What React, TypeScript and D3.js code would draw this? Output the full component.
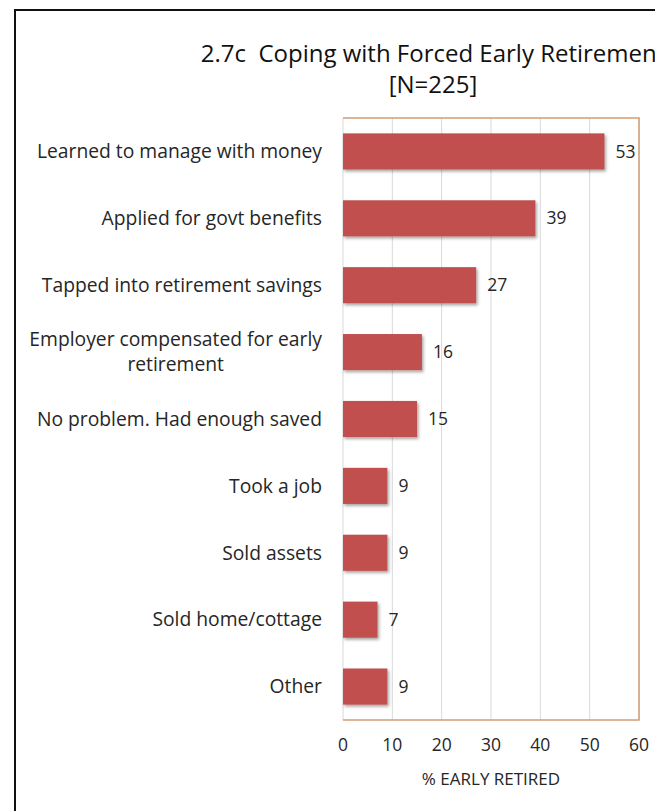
import React, { useEffect, useRef } from "react";
import * as d3 from "d3";

const categories: string[][] = [
  ["Learned to manage with money"],
  ["Applied for govt benefits"],
  ["Tapped into retirement savings"],
  ["Employer compensated for early", "retirement"],
  ["No problem. Had enough saved"],
  ["Took a job"],
  ["Sold assets"],
  ["Sold home/cottage"],
  ["Other"],
];
const values: number[] = [53, 39, 27, 16, 15, 9, 9, 7, 9];
const xTicks: number[] = [0, 10, 20, 30, 40, 50, 60];
const titleLines: string[] = ["2.7c  Coping with Forced Early Retirement", "[N=225]"];
const xAxisTitle = "% EARLY RETIRED";

const W = 655;
const H = 811;
const FONT = "'Open Sans', sans-serif";

export default function App() {
  const ref = useRef<SVGSVGElement | null>(null);

  useEffect(() => {
    const svg = d3.select(ref.current);
    svg.selectAll("*").remove();

    const plot = { left: 343, right: 639, top: 118, bottom: 720 };
    const x = d3.scaleLinear().domain([0, 60]).range([plot.left, plot.right]);
    const y = d3
      .scaleBand<number>()
      .domain(d3.range(categories.length))
      .range([plot.top, plot.bottom])
      .paddingInner(0.46)
      .paddingOuter(0.23);

    const defs = svg.append("defs");
    const f = defs
      .append("filter")
      .attr("id", "shadow")
      .attr("x", "-10%")
      .attr("y", "-20%")
      .attr("width", "130%")
      .attr("height", "160%");
    f.append("feDropShadow")
      .attr("dx", 1.5)
      .attr("dy", 2)
      .attr("stdDeviation", 1.5)
      .attr("flood-color", "#000")
      .attr("flood-opacity", 0.35);

    svg.append("rect").attr("width", W).attr("height", H).attr("fill", "#fff");

    // outer frame
    svg
      .append("path")
      .attr("d", `M15,${H} V10 H${W + 5}`)
      .attr("fill", "none")
      .attr("stroke", "#111")
      .attr("stroke-width", 2);

    // title
    titleLines.forEach((t, i) => {
      svg
        .append("text")
        .attr("x", 433)
        .attr("y", 62 + i * 31)
        .attr("text-anchor", "middle")
        .attr("font-family", FONT)
        .attr("font-size", 24)
        .attr("fill", "#111")
        .style("white-space", "pre")
        .text(t);
    });

    // gridlines
    svg
      .append("g")
      .selectAll("line")
      .data(xTicks)
      .join("line")
      .attr("x1", (d) => x(d))
      .attr("x2", (d) => x(d))
      .attr("y1", plot.top)
      .attr("y2", plot.bottom)
      .attr("stroke", "#d9d9d9")
      .attr("stroke-width", 1);

    // plot frame (orange top/right/bottom)
    svg
      .append("path")
      .attr(
        "d",
        `M${plot.left},${plot.top} H${plot.right} V${plot.bottom} H${plot.left}`
      )
      .attr("fill", "none")
      .attr("stroke", "#D39C74")
      .attr("stroke-width", 1.5);

    // bars
    svg
      .append("g")
      .selectAll("rect")
      .data(values)
      .join("rect")
      .attr("x", x(0))
      .attr("y", (_, i) => y(i)!)
      .attr("width", (d) => x(d) - x(0))
      .attr("height", y.bandwidth())
      .attr("fill", "#C0504D")
      .attr("filter", "url(#shadow)");

    // value labels
    svg
      .append("g")
      .selectAll("text")
      .data(values)
      .join("text")
      .attr("x", (d) => x(d) + 11)
      .attr("y", (_, i) => y(i)! + y.bandwidth() / 2)
      .attr("dy", "0.35em")
      .attr("font-family", FONT)
      .attr("font-size", 17.5)
      .attr("fill", "#262626")
      .text((d) => String(d));

    // category labels
    const catG = svg.append("g");
    categories.forEach((lines, i) => {
      const cy = y(i)! + y.bandwidth() / 2;
      const lh = 25;
      const first = catG
        .append("text")
        .attr("x", 322)
        .attr("y", cy - ((lines.length - 1) * lh) / 2)
        .attr("dy", "0.35em")
        .attr("text-anchor", "end")
        .attr("font-family", FONT)
        .attr("font-size", 19.3)
        .attr("fill", "#262626")
        .text(lines[0]);
      if (lines.length > 1) {
        const w = (first.node() as SVGTextElement).getComputedTextLength();
        for (let k = 1; k < lines.length; k++) {
          catG
            .append("text")
            .attr("x", 322 - w / 2)
            .attr("y", cy - ((lines.length - 1) * lh) / 2 + k * lh)
            .attr("dy", "0.35em")
            .attr("text-anchor", "middle")
            .attr("font-family", FONT)
            .attr("font-size", 19.3)
            .attr("fill", "#262626")
            .text(lines[k]);
        }
      }
    });

    // x tick labels
    svg
      .append("g")
      .selectAll("text")
      .data(xTicks)
      .join("text")
      .attr("x", (d) => x(d))
      .attr("y", 745)
      .attr("dy", "0.35em")
      .attr("text-anchor", "middle")
      .attr("font-family", FONT)
      .attr("font-size", 17.5)
      .attr("fill", "#262626")
      .text((d) => String(d));

    svg
      .append("text")
      .attr("x", (plot.left + plot.right) / 2)
      .attr("y", 779)
      .attr("dy", "0.35em")
      .attr("text-anchor", "middle")
      .attr("font-family", FONT)
      .attr("font-size", 17)
      .attr("fill", "#262626")
      .text(xAxisTitle);
  }, []);

  return (
    <div style={{ position: "fixed", left: 0, top: 0, width: W, height: H, overflow: "hidden" }}>
      <svg ref={ref} width={W} height={H} style={{ display: "block" }} />
    </div>
  );
}
